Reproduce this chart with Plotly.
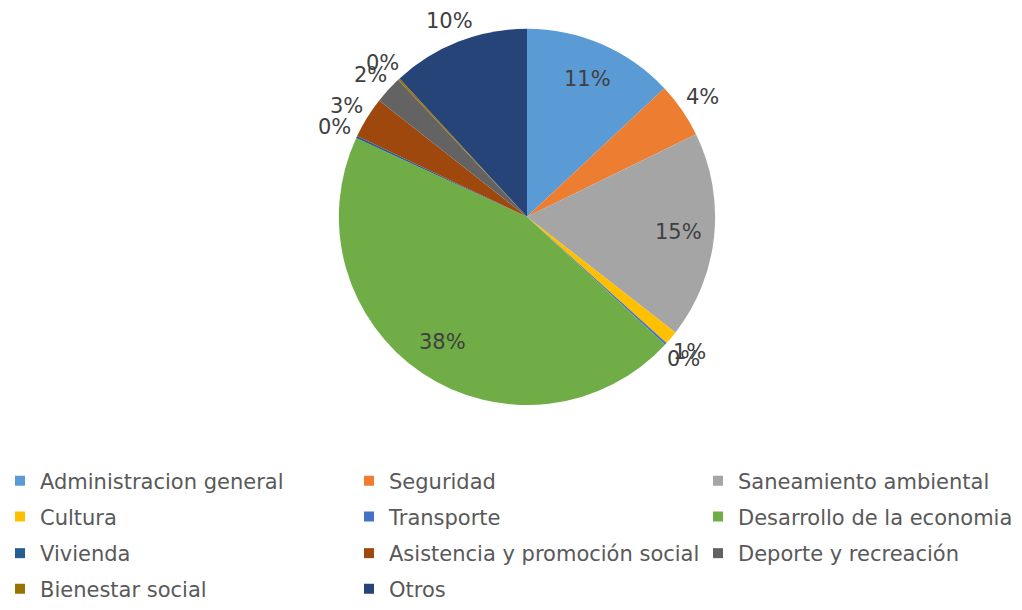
import math
import plotly.graph_objects as go

categories = ["Administracion general", "Seguridad", "Saneamiento ambiental",
              "Cultura", "Transporte", "Desarrollo de la economia",
              "Vivienda", "Asistencia y promoción social", "Deporte y recreación",
              "Bienestar social", "Otros"]
values = [11, 4, 15, 1, 0.15, 38, 0.15, 3, 2, 0.15, 10]
labels_txt = ["11%", "4%", "15%", "1%", "0%", "38%", "0%", "3%", "2%", "0%", "10%"]
colors = ["#5B9BD5", "#ED7D31", "#A5A5A5", "#FFC000", "#4472C4", "#70AD47",
          "#255E91", "#9E480E", "#636363", "#997300", "#264478"]
label_inside = [True, False, True, False, False, True,
                False, False, False, False, False]

FONT = "DejaVu Sans"
W, H = 1022, 610

# pie geometry (pixels)
PX0, PX1 = 337, 717
PY0, PY1 = 29, 409
cx, cy = (PX0 + PX1) / 2, (PY0 + PY1) / 2
rad = (PX1 - PX0) / 2

fig = go.Figure()
fig.add_trace(go.Pie(
    labels=categories, values=values, text=labels_txt,
    textinfo="none",
    sort=False, direction="clockwise", rotation=0,
    marker=dict(colors=colors, line=dict(width=0)),
    domain=dict(x=[PX0 / W, PX1 / W], y=[1 - PY1 / H, 1 - PY0 / H]),
    showlegend=False, hoverinfo="label+text",
))

# data labels placed along each slice's bisector
total = sum(values)
cum = 0.0
for v, t, ins in zip(values, labels_txt, label_inside):
    mid = (cum + v / 2) / total * 2 * math.pi
    cum += v
    rr = rad * (0.8 if ins else 1.12)
    px = cx + rr * math.sin(mid)
    py = cy - rr * math.cos(mid)
    fig.add_annotation(x=px / W, y=1 - py / H, xref="paper", yref="paper",
                       text=t, showarrow=False, xanchor="center", yanchor="middle",
                       font=dict(family=FONT, size=21, color="#404040"))

# legend grid: 4 rows x 3 columns (row-major order as in the reference)
ncols = 3
row_y = [1 - 486 / H, 1 - 522 / H, 1 - 559 / H, 1 - 595 / H]
col_w = [304, 304, 280]
for i, (name, col) in enumerate(zip(categories, colors)):
    r, c = divmod(i, ncols)
    lg = "legend" if r == 0 else f"legend{r + 1}"
    fig.add_trace(go.Scatter(
        x=[None], y=[None], mode="markers", name=name,
        marker=dict(symbol="square", size=10, color=col),
        legend=lg, legendwidth=col_w[c], hoverinfo="skip",
    ))

legend_common = dict(orientation="h", x=0, xanchor="left", yanchor="middle",
                     bgcolor="rgba(0,0,0,0)", borderwidth=0,
                     font=dict(family=FONT, size=21, color="#595959"),
                     itemclick=False, itemdoubleclick=False)
layout_legends = {}
for r, yv in enumerate(row_y):
    key = "legend" if r == 0 else f"legend{r + 1}"
    layout_legends[key] = dict(legend_common, y=yv)

fig.update_layout(
    width=W, height=H,
    margin=dict(l=0, r=0, t=0, b=0),
    paper_bgcolor="white", plot_bgcolor="white",
    xaxis=dict(visible=False), yaxis=dict(visible=False),
    showlegend=True,
    **layout_legends,
)

post = ("document.body.style.margin='0px';"
        "document.body.style.overflow='hidden';"
        "document.documentElement.style.overflow='hidden';"
        "window.scrollTo(0,0);")
fig.write_html("out.html", config={"displayModeBar": False}, post_script=post)
